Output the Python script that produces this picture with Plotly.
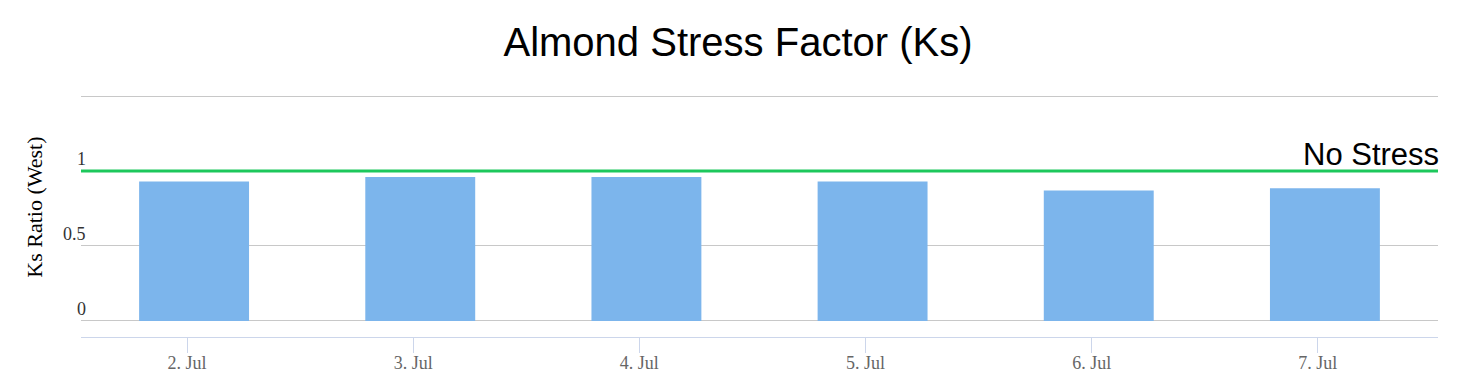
import pandas as pd
import plotly.graph_objects as go

# ---- data ----
dates = ["2024-07-02", "2024-07-03", "2024-07-04", "2024-07-05", "2024-07-06", "2024-07-07"]
tick_labels = ["2. Jul", "3. Jul", "4. Jul", "5. Jul", "6. Jul", "7. Jul"]
ks_values = [0.93, 0.96, 0.96, 0.93, 0.87, 0.885]
no_stress_level = 1.0
y_ticks = [0, 0.5, 1, 1.5]
y_tick_text = ["0", "0.5", "1", ""]

date_idx = pd.to_datetime(dates)
tick_pos = [d - pd.Timedelta(minutes=45) for d in date_idx]

fig = go.Figure()
fig.add_trace(go.Bar(
    x=date_idx, y=ks_values,
    marker=dict(color="#7cb5ec", line=dict(width=0)),
    hoverinfo="x+y",
    showlegend=False,
))

fig.add_shape(type="line", xref="paper", x0=0, x1=1, yref="y",
              y0=no_stress_level, y1=no_stress_level,
              line=dict(color="#1dc85c", width=3), layer="above")

fig.add_annotation(text="No Stress", xref="paper", x=1, xanchor="right", xshift=3,
                   yref="y", y=no_stress_level, yanchor="bottom", yshift=-3,
                   showarrow=False,
                   font=dict(family="Liberation Sans, Arial, sans-serif", size=31, color="#000000"))

for v, t in zip(y_ticks, y_tick_text):
    if t:
        fig.add_annotation(text=t, xref="paper", x=0, xanchor="right", xshift=7,
                           yref="y", y=v, yanchor="bottom", yshift=0,
                           showarrow=False,
                           font=dict(family="Liberation Serif, Times New Roman, serif", size=18, color="#333333"))

fig.add_annotation(text="Ks Ratio (West)", textangle=-90,
                   xref="paper", x=0, xanchor="center", xshift=-46,
                   yref="paper", y=0.53, yanchor="middle",
                   showarrow=False,
                   font=dict(family="Liberation Serif, Times New Roman, serif", size=22, color="#000000"))

fig.update_layout(
    width=1476, height=386,
    autosize=False,
    margin=dict(l=81, r=38, t=93, b=49, pad=0, autoexpand=False),
    paper_bgcolor="white", plot_bgcolor="white",
    bargap=0.514,
    title=dict(text="Almond Stress Factor (Ks)", x=0.5, xref="container", xanchor="center",
               y=1 - 42 / 386, yref="container", yanchor="middle",
               font=dict(family="Liberation Sans, Arial, sans-serif", size=40, color="#000000")),
    xaxis=dict(
        type="date", automargin=False,
        range=["2024-07-01 12:00", "2024-07-07 12:00"],
        tickmode="array", tickvals=tick_pos, ticktext=tick_labels,
        showgrid=False, zeroline=False,
        showline=True, linecolor="#ccd6eb", linewidth=1,
        ticks="outside", ticklen=15, tickcolor="#ccd6eb", tickwidth=1,
        ticklabelstandoff=-6,
        tickfont=dict(family="Liberation Serif, Times New Roman, serif", size=18, color="#666666"),
    ),
    yaxis=dict(
        automargin=False,
        range=[-0.107, 1.52],
        tickmode="array", tickvals=y_ticks, ticktext=y_tick_text,
        showticklabels=False, showgrid=True, gridcolor="#c8c8c8", gridwidth=1,
        zeroline=False, showline=False, ticks="",
    ),
)

fig.write_html("out.html", config={"displayModeBar": False},
               post_script="document.body.style.margin='0px';")
